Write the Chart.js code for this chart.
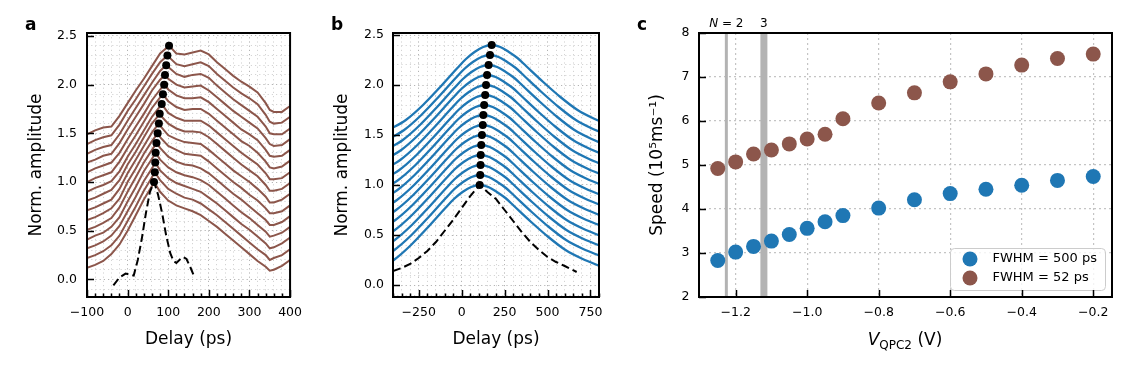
<!DOCTYPE html>
<html>
<head>
<meta charset="utf-8">
<script src="https://cdn.jsdelivr.net/npm/chart.js@4.4.1/dist/chart.umd.min.js"></script>
<style>
  html, body { margin: 0; padding: 0; background: #fff; overflow: hidden; }
  #wrap { position: relative; width: 1140px; height: 380px; font-family: 'DejaVu Sans', sans-serif; color: #000; }
  canvas { position: absolute; top: 0; }
  .lbl { position: absolute; white-space: nowrap; }
  .panel { font-size: 17px; line-height: 17px; font-weight: bold; top: 16px; }
  .nlabel { font-size: 12px; line-height: 12px; top: 17px; transform: translateX(-50%); }
  .xtitle { font-size: 17px; line-height: 17px; top: 331px; transform: translateX(-50%); }
</style>
</head>
<body>
<div id="wrap">
  <canvas id="chartA" width="310" height="380" style="left:0"></canvas>
  <canvas id="chartB" width="310" height="380" style="left:310px"></canvas>
  <canvas id="chartC" width="520" height="380" style="left:620px"></canvas>
  <div class="lbl panel" style="left:25px">a</div>
  <div class="lbl panel" style="left:331px">b</div>
  <div class="lbl panel" style="left:637px">c</div>
  <div class="lbl xtitle" style="left:905px"><i>V</i><span style="font-size:12px;position:relative;top:4px">QPC2</span> (V)</div>
</div>
<script>
// ---- panel a: 52 ps pulse, traces normalised and offset by 0.1 ----
const delayA = [-100, -80, -60, -40, -20, 0, 20, 40, 60, 80, 100, 120, 140, 160, 180, 200, 220, 240, 260, 280, 300, 320, 340, 350, 360, 380, 400];
const tracesA = [
  [0.12,0.15,0.19,0.26,0.36,0.50,0.66,0.82,0.96,0.90,0.81,0.76,0.73,0.70,0.66,0.60,0.54,0.47,0.40,0.33,0.26,0.19,0.13,0.09,0.10,0.14,0.20],
  [0.12,0.15,0.19,0.25,0.35,0.50,0.65,0.81,0.95,0.92,0.83,0.78,0.74,0.72,0.68,0.62,0.56,0.49,0.42,0.35,0.28,0.21,0.15,0.10,0.12,0.15,0.21],
  [0.12,0.15,0.19,0.25,0.35,0.50,0.65,0.81,0.94,0.92,0.84,0.79,0.76,0.73,0.70,0.64,0.58,0.51,0.44,0.37,0.31,0.24,0.17,0.12,0.13,0.17,0.23],
  [0.11,0.15,0.18,0.24,0.34,0.50,0.65,0.81,0.94,0.93,0.85,0.80,0.77,0.75,0.72,0.67,0.60,0.53,0.46,0.39,0.33,0.26,0.19,0.14,0.15,0.18,0.24],
  [0.11,0.14,0.18,0.23,0.34,0.50,0.65,0.80,0.93,0.95,0.86,0.81,0.78,0.77,0.74,0.69,0.62,0.55,0.48,0.42,0.35,0.28,0.21,0.16,0.16,0.19,0.25],
  [0.11,0.14,0.18,0.23,0.33,0.50,0.64,0.79,0.92,0.96,0.87,0.83,0.79,0.78,0.77,0.71,0.64,0.57,0.50,0.44,0.37,0.31,0.23,0.18,0.18,0.20,0.26],
  [0.11,0.14,0.18,0.22,0.33,0.49,0.63,0.77,0.91,0.98,0.88,0.84,0.81,0.80,0.79,0.73,0.66,0.59,0.52,0.46,0.40,0.33,0.25,0.19,0.19,0.22,0.28],
  [0.11,0.14,0.18,0.22,0.32,0.48,0.61,0.76,0.90,0.99,0.90,0.85,0.82,0.82,0.81,0.76,0.69,0.62,0.55,0.48,0.42,0.36,0.27,0.21,0.21,0.23,0.29],
  [0.10,0.14,0.17,0.21,0.31,0.46,0.59,0.73,0.87,0.98,0.91,0.86,0.83,0.83,0.83,0.78,0.71,0.64,0.57,0.50,0.44,0.38,0.29,0.23,0.23,0.24,0.30],
  [0.10,0.14,0.17,0.20,0.31,0.45,0.58,0.72,0.86,0.97,0.93,0.87,0.84,0.85,0.85,0.80,0.73,0.66,0.59,0.52,0.47,0.40,0.31,0.25,0.24,0.26,0.32],
  [0.10,0.14,0.17,0.20,0.30,0.44,0.57,0.70,0.84,0.95,0.95,0.89,0.86,0.86,0.87,0.82,0.75,0.68,0.61,0.54,0.49,0.43,0.33,0.27,0.26,0.27,0.33],
  [0.10,0.13,0.17,0.19,0.30,0.44,0.57,0.70,0.84,0.95,0.96,0.90,0.87,0.88,0.89,0.84,0.77,0.70,0.63,0.57,0.51,0.45,0.35,0.29,0.27,0.28,0.34],
  [0.09,0.13,0.16,0.18,0.29,0.43,0.56,0.69,0.82,0.94,0.98,0.91,0.88,0.90,0.91,0.87,0.79,0.72,0.65,0.59,0.53,0.47,0.37,0.30,0.29,0.29,0.35],
  [0.09,0.13,0.16,0.18,0.29,0.43,0.55,0.68,0.81,0.93,0.99,0.91,0.89,0.91,0.93,0.89,0.81,0.74,0.67,0.61,0.56,0.50,0.39,0.32,0.30,0.31,0.37],
  [0.09,0.13,0.16,0.17,0.28,0.41,0.54,0.66,0.79,0.92,0.99,0.92,0.91,0.93,0.95,0.91,0.83,0.76,0.69,0.63,0.58,0.52,0.41,0.34,0.32,0.32,0.38]
];
const offsetsA = [0, 0.1, 0.2, 0.3, 0.4, 0.5, 0.6, 0.7, 0.8, 0.9, 1.0, 1.1, 1.2, 1.3, 1.4];
const peakDelayA = [65, 67, 68, 69, 71, 74, 77, 79, 84, 87, 90, 92, 95, 98, 102];
const peakAmpA = [1.0, 1.1, 1.2, 1.3, 1.4, 1.5, 1.6, 1.7, 1.8, 1.9, 2.0, 2.1, 2.2, 2.3, 2.4];
const pulseDelayA = [-35, -20, -5, 15, 25, 35, 45, 55, 65, 75, 85, 95, 105, 113, 120, 130, 137, 145, 155, 165];
const pulseAmpA = [-0.06, 0.02, 0.06, 0.04, 0.20, 0.42, 0.68, 0.90, 1.0, 0.87, 0.68, 0.45, 0.27, 0.19, 0.17, 0.21, 0.23, 0.21, 0.12, 0.02];

// ---- panel b: 500 ps pulse ----
const profileDelayB = [-600, -500, -400, -300, -200, -150, -100, -50, 0, 50, 100, 150, 200, 300, 400, 500, 600, 700]; // delay from each peak
const profileAmpB = [0.15, 0.25, 0.40, 0.58, 0.77, 0.86, 0.93, 0.98, 1.0, 0.98, 0.93, 0.87, 0.79, 0.63, 0.48, 0.35, 0.26, 0.19];
const offsetsB = [0, 0.1, 0.2, 0.3, 0.4, 0.5, 0.6, 0.7, 0.8, 0.9, 1.0, 1.1, 1.2, 1.3, 1.4];
const peakDelayB = [105, 108, 110, 111, 114, 118, 123, 126, 131, 137, 142, 148, 157, 165, 175];
const peakAmpB = [1.0, 1.1, 1.2, 1.3, 1.4, 1.5, 1.6, 1.7, 1.8, 1.9, 2.0, 2.1, 2.2, 2.3, 2.4];
const pulseDelayB = [-400, -350, -300, -250, -200, -150, -100, -50, 0, 50, 105, 150, 200, 250, 300, 350, 400, 450, 500, 550, 600, 670];
const pulseAmpB = [0.14, 0.17, 0.21, 0.27, 0.34, 0.43, 0.54, 0.65, 0.77, 0.89, 1.0, 0.93, 0.86, 0.75, 0.64, 0.53, 0.43, 0.35, 0.28, 0.23, 0.19, 0.13];

// ---- panel c: speed vs gate voltage ----
const gateVoltage = [-1.25, -1.2, -1.15, -1.1, -1.05, -1.0, -0.95, -0.9, -0.8, -0.7, -0.6, -0.5, -0.4, -0.3, -0.2];
const speed500 = [2.83, 3.02, 3.15, 3.27, 3.42, 3.56, 3.71, 3.85, 4.02, 4.21, 4.35, 4.45, 4.54, 4.65, 4.74];
const speed52 = [4.92, 5.07, 5.25, 5.34, 5.48, 5.59, 5.70, 6.05, 6.41, 6.64, 6.89, 7.07, 7.27, 7.42, 7.52];
const plateauVoltage = [-1.226, -1.121];
const plateauLabel = ['N = 2', '3'];
const speedRange = [2, 8];

const BROWN = '#8c564b', BLUE = '#1f77b4';
const GRID_MAJOR = '#b4b4b4', GRID_MINOR = '#d4d4d4';

Chart.defaults.font.family = "'DejaVu Sans', sans-serif";
Chart.defaults.color = '#000';

const isMult = (v, m) => Math.abs(v / m - Math.round(v / m)) < 1e-6;
const fmt = (v, d) => v.toFixed(d).replace('-', '\u2212');
const xy = (xs, ys) => xs.map((x, k) => ({ x, y: ys[k] }));

// closed box with inward ticks (matplotlib look)
const axesFrame = (xTick, yTick) => ({
  id: 'axesFrame',
  afterDraw(chart) {
    const { ctx, chartArea: a, scales: { x, y } } = chart;
    ctx.save();
    ctx.strokeStyle = '#000';
    ctx.lineWidth = 1.5;
    ctx.beginPath();
    x.ticks.forEach(t => {
      const len = xTick(t.value);
      if (!len) return;
      const px = Math.round(x.getPixelForValue(t.value)) + 0.5;
      ctx.moveTo(px, a.bottom); ctx.lineTo(px, a.bottom - len);
    });
    y.ticks.forEach(t => {
      const len = yTick(t.value);
      if (!len) return;
      const py = Math.round(y.getPixelForValue(t.value)) + 0.5;
      ctx.moveTo(a.left, py); ctx.lineTo(a.left + len, py);
    });
    ctx.stroke();
    ctx.lineWidth = 2;
    ctx.strokeRect(a.left, a.top, a.width, a.height);
    ctx.restore();
  }
});

function waterfallScales({ xMin, xMax, xStep, xMajor, yMin, yMax, yWidth, yTitlePad, yLabelPad }) {
  return {
    x: {
      type: 'linear', min: xMin, max: xMax,
      afterFit: s => { s.height = 83; },
      ticks: { stepSize: xStep, autoSkip: false, maxRotation: 0, includeBounds: false, padding: 8,
        font: { size: 12.5 }, color: '#000', callback: v => isMult(v, xMajor) ? fmt(v, 0) : '' },
      grid: { drawTicks: false, lineWidth: 1, color: c => (c.tick && isMult(c.tick.value, xMajor)) ? GRID_MAJOR : GRID_MINOR },
      border: { display: false, dash: [1.2, 3] },
      title: { display: true, text: 'Delay (ps)', font: { size: 17 }, color: '#000', padding: { top: 0, bottom: 30 } }
    },
    y: {
      type: 'linear', min: yMin, max: yMax,
      afterFit: s => { s.width = yWidth; },
      ticks: { stepSize: 0.1, autoSkip: false, includeBounds: false, padding: yLabelPad,
        font: { size: 12.5 }, color: '#000', callback: v => isMult(v, 0.5) ? fmt(v, 1) : '' },
      grid: { drawTicks: false, lineWidth: 1, color: c => (c.tick && isMult(c.tick.value, 0.5)) ? GRID_MAJOR : GRID_MINOR },
      border: { display: false, dash: [1.2, 3] },
      title: { display: true, text: 'Norm. amplitude', font: { size: 17 }, color: '#000', padding: { top: yTitlePad, bottom: 0 } }
    }
  };
}

const baseOpts = {
  responsive: false,
  devicePixelRatio: 1,
  animation: false,
  events: [],
  plugins: { legend: { display: false }, tooltip: { enabled: false } }
};

// ---------- panel a ----------
const traceDataA = tracesA.map((row, i) => {
  const pts = delayA.map((d, k) => ({ x: d, y: row[k] + offsetsA[i] }));
  pts.push({ x: peakDelayA[i], y: peakAmpA[i] });
  return pts.sort((p, q) => p.x - q.x);
});

new Chart(document.getElementById('chartA'), {
  type: 'line',
  data: {
    datasets: [
      ...traceDataA.map(data => ({ data, borderColor: BROWN, borderWidth: 2, pointRadius: 0, order: 3 })),
      { data: xy(pulseDelayA, pulseAmpA), borderColor: '#000', borderWidth: 2, borderDash: [8, 4], pointRadius: 0, order: 2 },
      { data: xy(peakDelayA, peakAmpA), showLine: false, pointRadius: 4, pointBackgroundColor: '#000', pointBorderWidth: 0, order: 1 }
    ]
  },
  options: {
    ...baseOpts,
    layout: { padding: { left: 0, top: 33, right: 17, bottom: 0 } },
    scales: waterfallScales({ xMin: -100, xMax: 400, xStep: 20, xMajor: 100, yMin: -0.18, yMax: 2.53, yWidth: 87, yTitlePad: 26, yLabelPad: 10 })
  },
  plugins: [axesFrame(v => isMult(v, 100) ? 7 : 3.5, v => isMult(v, 0.5) ? 7 : 0)]
});

// ---------- panel b ----------
const traceDataB = offsetsB.map((off, i) =>
  profileDelayB.map((d, k) => ({ x: peakDelayB[i] + d, y: profileAmpB[k] + off })));

new Chart(document.getElementById('chartB'), {
  type: 'line',
  data: {
    datasets: [
      ...traceDataB.map(data => ({ data, borderColor: BLUE, borderWidth: 2.3, pointRadius: 0, cubicInterpolationMode: 'monotone', order: 3 })),
      { data: xy(pulseDelayB, pulseAmpB), borderColor: '#000', borderWidth: 2, borderDash: [8, 4], pointRadius: 0, order: 2 },
      { data: xy(peakDelayB, peakAmpB), showLine: false, pointRadius: 4, pointBackgroundColor: '#000', pointBorderWidth: 0, order: 1 }
    ]
  },
  options: {
    ...baseOpts,
    layout: { padding: { left: 0, top: 33, right: 21, bottom: 0 } },
    scales: waterfallScales({ xMin: -400, xMax: 800, xStep: 50, xMajor: 250, yMin: -0.12, yMax: 2.52, yWidth: 83, yTitlePad: 22, yLabelPad: 9 })
  },
  plugins: [axesFrame(v => isMult(v, 250) ? 7 : 3.5, v => isMult(v, 0.5) ? 7 : 0)]
});

// ---------- panel c ----------
const legendIcons = [BLUE, BROWN].map(col => {
  const cv = document.createElement('canvas');
  cv.width = 16; cv.height = 16;
  const g = cv.getContext('2d');
  g.fillStyle = col;
  g.beginPath(); g.arc(8, 8, 7.5, 0, Math.PI * 2); g.fill();
  return cv;
});

const legendBox = {
  id: 'legendBox',
  beforeLayout(chart) {
    const lg = chart.legend;
    if (lg) lg._layers = () => [{ z: 1, draw: area => lg.draw(area) }];
  },
  afterLayout(chart) {
    const lg = chart.legend;
    lg.left = 328; lg.top = 246.5; lg.right = lg.left + 160; lg.bottom = lg.top + 60;
  },
  afterDatasetsDraw(chart) {
    const { ctx } = chart;
    ctx.save();
    ctx.beginPath();
    ctx.roundRect(330.5, 248.5, 155, 42, 4);
    ctx.fillStyle = 'rgba(255,255,255,0.8)';
    ctx.fill();
    ctx.strokeStyle = '#cccccc';
    ctx.lineWidth = 1;
    ctx.stroke();
    ctx.restore();
  }
};

const chartC = new Chart(document.getElementById('chartC'), {
  type: 'line',
  data: {
    datasets: [
      { label: 'FWHM = 500 ps', data: xy(gateVoltage, speed500), showLine: false, pointRadius: 7.5,
        pointBackgroundColor: BLUE, pointBorderWidth: 0, borderColor: BLUE, order: 1 },
      { label: 'FWHM = 52 ps', data: xy(gateVoltage, speed52), showLine: false, pointRadius: 7.5,
        pointBackgroundColor: BROWN, pointBorderWidth: 0, borderColor: BROWN, order: 1 },
      ...plateauVoltage.map((v, i) => ({ label: plateauLabel[i], data: [{ x: v, y: speedRange[0] }, { x: v, y: speedRange[1] }],
        borderColor: '#b3b3b3', borderWidth: i === 0 ? 3 : 7, pointRadius: 0, order: 5 }))
    ]
  },
  options: {
    ...baseOpts,
    layout: { padding: { left: 0, top: 33, right: 28, bottom: 0 } },
    plugins: {
      tooltip: { enabled: false },
      legend: {
        display: true, position: 'chartArea', align: 'start',
        labels: {
          font: { size: 13 }, color: '#000', usePointStyle: true, pointStyleWidth: 32, boxHeight: 11, padding: 6,
          filter: item => item.datasetIndex < 2,
          generateLabels: chart => Chart.defaults.plugins.legend.labels.generateLabels(chart)
            .map(it => ({ ...it, pointStyle: legendIcons[it.datasetIndex] }))
        }
      }
    },
    scales: {
      x: {
        type: 'linear', min: -1.3025, max: -0.1475,
        afterFit: s => { s.height = 83; },
        ticks: { stepSize: 0.2, autoSkip: false, maxRotation: 0, includeBounds: false, padding: 8,
          font: { size: 12.5 }, color: '#000', callback: v => fmt(v, 1) },
        grid: { drawTicks: false, lineWidth: 1.2, color: '#c4c4c4' },
        border: { display: false, dash: [2, 3] },
        title: { display: false }
      },
      y: {
        type: 'linear', min: speedRange[0], max: speedRange[1],
        afterFit: s => { s.width = 79; },
        ticks: { stepSize: 1, autoSkip: false, padding: 9.5, font: { size: 12.5 }, color: '#000', callback: v => fmt(v, 0) },
        grid: { drawTicks: false, lineWidth: 1.2, color: '#c4c4c4' },
        border: { display: false, dash: [2, 3] },
        title: { display: true, text: 'Speed (10\u2075ms\u207B\u00B9)', font: { size: 17 }, color: '#000', padding: { top: 27, bottom: 0 } }
      }
    }
  },
  plugins: [legendBox, axesFrame(() => 7, () => 7)]
});

// plateau labels above panel c, placed through the x scale
const wrap = document.getElementById('wrap');
plateauVoltage.forEach((v, i) => {
  const el = document.createElement('div');
  el.className = 'lbl nlabel';
  el.innerHTML = plateauLabel[i].replace(/^N/, '<i>N</i>');
  el.style.left = (620 + chartC.scales.x.getPixelForValue(v)) + 'px';
  wrap.appendChild(el);
});
</script>
</body>
</html>
